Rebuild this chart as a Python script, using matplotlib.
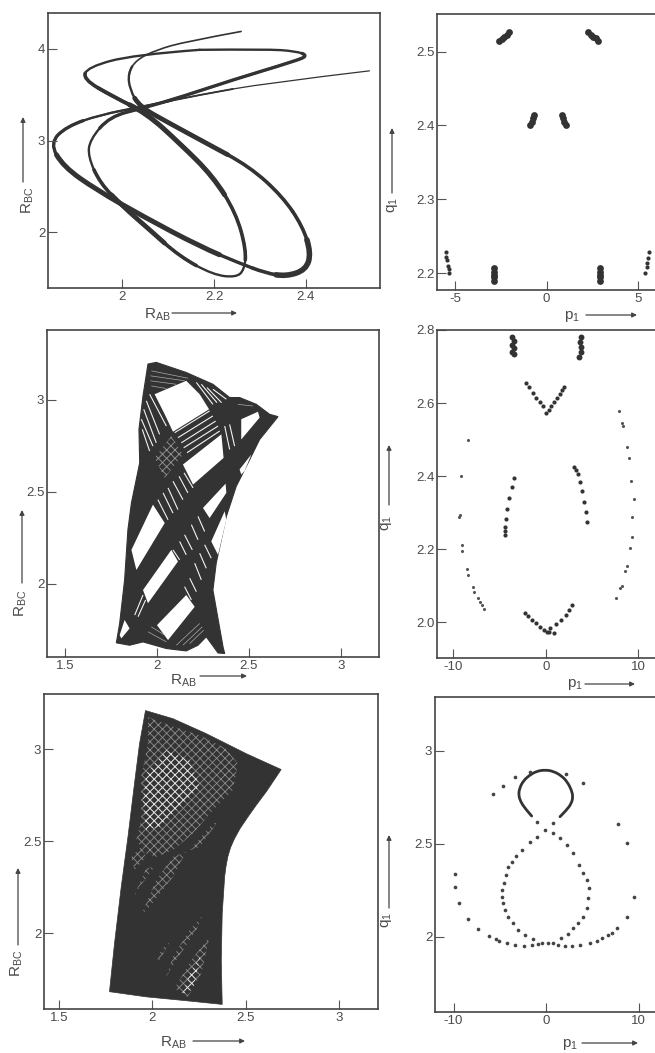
import matplotlib
matplotlib.use("Agg")
import matplotlib.pyplot as plt
from matplotlib.patches import Polygon, PathPatch, FancyArrowPatch
from matplotlib.path import Path

plt.rcParams['font.family'] = ['Liberation Sans', 'DejaVu Sans']
plt.rcParams['mathtext.default'] = 'regular'
plt.rcParams['hatch.linewidth'] = 0.6

W, H = 655, 1053
INK = '#333333'
TXT = '#4a4a4a'

# panel 1: two strands of the trajectory
loop_a_x = [2.169, 2.313, 2.378, 2.405, 2.375, 2.241, 2.132, 2.046, 1.973, 1.93, 1.926, 1.952, 2.002, 2.06,
            2.125, 2.198, 2.248, 2.266, 2.27, 2.248, 2.198, 2.125, 2.053, 1.98, 1.915, 1.925, 2.024, 2.169]
loop_a_y = [3.989, 3.996, 3.975, 3.925, 3.865, 3.662, 3.481, 3.354, 3.263, 3.009, 2.828, 2.537, 2.283, 2.029,
            1.739, 1.539, 1.51, 1.593, 1.811, 2.21, 2.61, 2.973, 3.299, 3.481, 3.67, 3.8, 3.935, 3.989]
loop_b_x = [2.538, 2.313, 2.169, 2.046, 1.952, 1.879, 1.843, 1.872, 1.944, 2.046, 2.169, 2.255, 2.313, 2.357,
            2.4, 2.411, 2.393, 2.349, 2.277, 2.183, 2.096, 2.038, 2.017, 2.013, 2.031, 2.075, 2.14, 2.259]
loop_b_y = [3.76, 3.626, 3.499, 3.372, 3.281, 3.154, 2.973, 2.719, 2.465, 2.174, 1.848, 1.666, 1.557, 1.521,
            1.593, 1.775, 2.065, 2.392, 2.719, 2.973, 3.209, 3.372, 3.554, 3.735, 3.88, 3.989, 4.08, 4.189]

# panel 2: outline of the covered area, open windows, gaps between strands
outline2 = [(1.951, 3.195), (1.996, 3.204), (2.159, 3.149), (2.304, 3.085), (2.395, 3.013), (2.449, 3.013),
            (2.54, 2.976), (2.612, 2.922), (2.658, 2.909), (2.558, 2.785), (2.495, 2.658), (2.431, 2.531),
            (2.377, 2.367), (2.322, 2.113), (2.304, 1.967), (2.359, 1.658), (2.368, 1.622), (2.332, 1.625),
            (2.268, 1.713), (2.223, 1.667), (2.159, 1.636), (2.051, 1.649), (1.924, 1.685), (1.851, 1.667),
            (1.779, 1.68), (1.797, 1.785), (1.824, 2.022), (1.842, 2.295), (1.861, 2.44), (1.906, 2.658),
            (1.902, 2.84), (1.924, 3.022)]
windows2 = [
    [(1.987, 3.031), (2.159, 3.104), (2.232, 3.031), (2.283, 2.949), (2.087, 2.827), (2.042, 2.922)],
    [(2.141, 2.649), (2.35, 2.813), (2.362, 2.685), (2.196, 2.54)],
    [(2.458, 2.895), (2.549, 2.936), (2.558, 2.904), (2.458, 2.785)],
    [(2.449, 2.622), (2.513, 2.704), (2.476, 2.613), (2.458, 2.595)],
    [(1.861, 2.185), (1.978, 2.431), (2.042, 2.331), (1.888, 2.076)],
    [(2.078, 2.185), (2.114, 2.122), (1.951, 1.895), (1.924, 1.967)],
    [(2.159, 1.94), (2.205, 1.876), (2.06, 1.695), (2.0, 1.776)],
    [(1.824, 1.804), (1.851, 1.758), (1.806, 1.704), (1.797, 1.722)],
    [(2.368, 2.395), (2.377, 2.349), (2.332, 2.158), (2.295, 2.231)],
    [(2.25, 2.413), (2.373, 2.545), (2.377, 2.495), (2.286, 2.358)],
]
gaps2 = [
    (2.214, 3.095, 2.304, 2.976), (2.241, 3.085, 2.326, 2.985), (2.272, 3.067, 2.351, 2.985), (2.304, 3.058, 2.377, 3.004),
    (1.96, 3.031, 2.051, 2.858), (1.942, 2.995, 2.014, 2.813), (1.928, 2.949, 1.996, 2.767), (1.915, 2.895, 1.978, 2.749),
    (1.92, 2.84, 1.96, 2.722),
    (2.096, 2.822, 2.286, 2.94), (2.114, 2.795, 2.304, 2.913), (2.132, 2.767, 2.319, 2.885), (2.145, 2.74, 2.332, 2.858),
    (2.163, 2.713, 2.341, 2.831),
    (2.005, 2.458, 2.06, 2.349), (2.033, 2.495, 2.087, 2.385), (2.06, 2.522, 2.114, 2.404), (2.087, 2.558, 2.141, 2.458),
    (2.12, 2.585, 2.168, 2.495), (2.147, 2.604, 2.196, 2.522),
    (2.087, 2.185, 2.123, 2.131), (2.123, 2.231, 2.159, 2.158), (2.15, 2.267, 2.192, 2.185), (2.187, 2.322, 2.223, 2.24),
    (2.223, 2.367, 2.259, 2.285),
    (2.205, 2.113, 2.241, 2.022), (2.232, 2.167, 2.268, 2.085), (2.259, 2.213, 2.295, 2.14), (2.178, 2.031, 2.214, 1.958),
    (2.15, 1.985, 2.187, 1.913),
    (1.879, 1.831, 1.924, 1.94), (1.897, 1.822, 1.938, 1.913),
    (2.368, 2.858, 2.395, 2.731), (2.395, 2.867, 2.422, 2.749),
]
fine_gaps2 = [
    (1.969, 3.158, 2.168, 3.118), (1.964, 3.131, 2.15, 3.104), (1.964, 3.104, 2.105, 3.085), (1.969, 3.076, 2.051, 3.062),
    (1.951, 1.74, 2.051, 1.685), (1.969, 1.767, 2.042, 1.722),
    (2.105, 1.667, 2.232, 1.785), (2.141, 1.667, 2.246, 1.767), (2.178, 1.676, 2.254, 1.749),
    (2.44, 2.976, 2.522, 2.967),
]
mesh2 = [(1.987, 2.685), (2.078, 2.804), (2.141, 2.704), (2.042, 2.576)]

# panel 3: outline and the areas where the net of strands still shows
outline3 = [(1.964, 3.21), (2.111, 3.166), (2.289, 3.085), (2.504, 2.976), (2.691, 2.89), (2.611, 2.769),
            (2.557, 2.696), (2.513, 2.633), (2.471, 2.57), (2.441, 2.515), (2.42, 2.467), (2.405, 2.416),
            (2.395, 2.362), (2.388, 2.307), (2.375, 2.108), (2.37, 1.855), (2.375, 1.615), (2.182, 1.635),
            (1.968, 1.656), (1.771, 1.684), (1.798, 1.946), (1.834, 2.253), (1.87, 2.524), (1.905, 2.814),
            (1.932, 3.03)]
net3_dim = [
    [(1.977, 3.175), (2.093, 3.13), (2.254, 3.076), (2.396, 3.004), (2.459, 2.922), (2.432, 2.778), (2.325, 2.669),
     (2.218, 2.542), (2.111, 2.452), (2.021, 2.416), (1.968, 2.434), (1.914, 2.506), (1.941, 2.615), (1.941, 2.85),
     (1.977, 3.031)],
    [(1.888, 2.416), (1.941, 2.47), (1.968, 2.416), (1.905, 2.344)],
    [(2.182, 2.443), (2.111, 2.307), (1.986, 2.145), (1.941, 2.1), (2.021, 2.289), (2.111, 2.416)],
    [(1.968, 2.353), (2.012, 2.362), (1.932, 2.253), (1.896, 2.19)],
    [(2.325, 2.597), (2.352, 2.606), (2.254, 2.47), (2.2, 2.452)],
    [(2.307, 1.982), (2.263, 1.783), (2.191, 1.656), (2.12, 1.702), (2.209, 1.855)],
    [(2.271, 2.1), (2.236, 2.018), (2.129, 1.855), (2.075, 1.765), (2.111, 1.873), (2.2, 2.018)],
    [(2.075, 1.946), (2.093, 1.946), (2.021, 1.828), (2.039, 1.891)],
]
net3_bright = [
    [(1.968, 2.868), (2.075, 2.995), (2.2, 2.94), (2.254, 2.796), (2.146, 2.687), (2.039, 2.579), (1.968, 2.561), (1.95, 2.723)],
    [(2.2, 1.78), (2.26, 1.88), (2.22, 1.7), (2.16, 1.67)],
]

# surfaces of section, p1 / q1
sec1_p = [-2.58, -2.45, -2.33, -2.18, -2.04, 2.27, 2.42, 2.55, 2.69, 2.82,
          -0.69, -0.76, -0.82, -0.89, 0.82, 0.89, 0.95, 1.04,
          -2.85, -2.85, -2.85, -2.85, -2.85, 2.91, 2.91, 2.91, 2.91, 2.91]
sec1_q = [2.515, 2.517, 2.520, 2.523, 2.526, 2.526, 2.523, 2.520, 2.518, 2.515,
          2.414, 2.41, 2.405, 2.40, 2.414, 2.41, 2.405, 2.40,
          2.207, 2.202, 2.198, 2.194, 2.189, 2.207, 2.202, 2.198, 2.194, 2.189]
sec1b_p = [-5.49, -5.49, -5.45, -5.38, -5.35, -5.33, 5.6, 5.55, 5.49, 5.45, 5.38]
sec1b_q = [2.228, 2.222, 2.217, 2.21, 2.205, 2.2, 2.228, 2.22, 2.214, 2.208, 2.2]

sec2_blob_p = [-3.65, -3.5, -3.65, -3.5, -3.65, -3.5, 3.78, 3.71, 3.78, 3.82, 3.6]
sec2_blob_q = [2.78, 2.77, 2.76, 2.75, 2.74, 2.735, 2.78, 2.767, 2.754, 2.74, 2.727]
sec2_p = [-2.13, -1.77, -1.41, -1.05, -0.68, -0.32, 0.04, 0.32, 0.61, 0.9, 1.19, 1.48, 1.77, 1.98,
          -3.42, -3.68, -3.96, -4.18, -4.32, -4.4, -4.4, -4.43, 3.1, 3.28, 3.46, 3.71, 3.96, 4.18, 4.36, 4.5,
          -2.31, -1.95, -1.51, -1.08, -0.61, -0.18, 0.29, 0.83, 0.11, 0.47, 1.08, 1.66, 2.16, 2.52, 2.85]
sec2_q = [2.655, 2.643, 2.628, 2.614, 2.603, 2.592, 2.573, 2.582, 2.593, 2.603, 2.613, 2.624, 2.635, 2.645,
          2.394, 2.371, 2.341, 2.31, 2.283, 2.262, 2.25, 2.239, 2.426, 2.417, 2.405, 2.385, 2.359, 2.33, 2.302, 2.273,
          2.026, 2.017, 2.006, 1.997, 1.988, 1.979, 1.974, 1.97, 1.974, 1.984, 1.995, 2.006, 2.02, 2.034, 2.046]
sec2b_p = [-8.47, -9.15, -9.33, -9.4, -9.08, -9.12, -8.54, -8.47, -7.89, -7.82, -7.39, -7.17, -6.92, -6.67,
           7.89, 8.29, 8.36, 8.76, 9.05, 9.26, 9.51, 9.37, 9.33, 9.08, 8.83, 8.58, 8.22, 8.04, 7.57]
sec2b_q = [2.5, 2.401, 2.294, 2.289, 2.211, 2.195, 2.145, 2.129, 2.096, 2.084, 2.066, 2.054, 2.046, 2.036,
           2.579, 2.546, 2.537, 2.479, 2.449, 2.387, 2.336, 2.289, 2.232, 2.203, 2.154, 2.139, 2.099, 2.093, 2.066]

sec3_loop_p = [-1.55, -2.27, -2.74, -2.97, -2.85, -2.45, -1.8, -1.01, -0.11, 0.79, 1.69, 2.31, 2.75, 2.92, 2.75, 2.23, 1.51]
sec3_loop_q = [2.649, 2.69, 2.726, 2.762, 2.8, 2.838, 2.868, 2.89, 2.897, 2.89, 2.865, 2.832, 2.789, 2.753, 2.717, 2.681, 2.645]
sec3_p = [-1.01, -0.11, 0.79,
          -5.69, -4.68, -3.32, -1.73, 2.13, 3.96, 7.78, 8.79, 9.55, 8.72, 7.64,
          -9.8, -9.8, -9.41, -8.43, -7.32, -6.16,
          -5.41, -5.05, -4.25, -3.39, -2.38, -1.55, -0.83, -0.47, 0.25, 0.79, 1.26, 2.05, 2.77, 3.71, 4.76, 5.48, 6.02, 6.74, 7.1,
          -1.01, -1.73, -2.63, -3.24, -3.71, -4.07, -4.36, -4.58, -4.72, -4.76, -4.61, -4.43, -4.07, -3.6, -2.99, -2.27, -1.37,
          1.62, 2.34, 2.95, 3.5, 3.96, 4.4, 4.58, 4.61, 4.4, 4.04, 3.6, 2.88, 2.23, 1.51, 0.79]
sec3_q = [2.618, 2.573, 2.609,
          2.765, 2.812, 2.857, 2.885, 2.875, 2.828, 2.608, 2.505, 2.215, 2.108, 2.045,
          2.337, 2.269, 2.179, 2.093, 2.039, 2.004,
          1.986, 1.978, 1.964, 1.957, 1.952, 1.953, 1.961, 1.964, 1.966, 1.968, 1.955, 1.952, 1.952, 1.953, 1.968, 1.978, 1.991, 2.009, 2.022,
          2.538, 2.511, 2.466, 2.434, 2.403, 2.373, 2.332, 2.29, 2.251, 2.215, 2.179, 2.143, 2.108, 2.072, 2.036, 2.009, 1.986,
          1.995, 2.014, 2.045, 2.072, 2.108, 2.152, 2.206, 2.26, 2.305, 2.344, 2.385, 2.448, 2.493, 2.529, 2.556]


def panel(l, t, r, b, xlim, ylim, xticks, xlabels, yticks, ylabels):
    ax = plt.gcf().add_axes([l / W, 1 - b / H, (r - l) / W, (b - t) / H])
    ax.set_xlim(xlim)
    ax.set_ylim(ylim)
    ax.set_xticks(xticks, xlabels)
    ax.set_yticks(yticks, ylabels)
    ax.tick_params(direction='in', length=6.5, width=0.8, color='#555555', labelcolor=TXT, labelsize=9.5, pad=2)
    for s in ax.spines.values():
        s.set_linewidth(1.2)
        s.set_color('#444444')
    return ax


def curve(ax, xs, ys, lw, start=0, end=None):
    # smooth stroke through midpoints, read points act as control points,
    # start/end pick a stretch of the same curve so thicker pieces stay on it
    n = len(xs)
    end = n - 1 if end is None else end
    if start == 0:
        verts = [(xs[0], ys[0])]
    else:
        verts = [((xs[start - 1] + xs[start]) / 2, (ys[start - 1] + ys[start]) / 2)]
    codes = [Path.MOVETO]
    for i in range(max(start, 1), end):
        verts.append((xs[i], ys[i]))
        if i == n - 2:
            verts.append((xs[n - 1], ys[n - 1]))
        else:
            verts.append(((xs[i] + xs[i + 1]) / 2, (ys[i] + ys[i + 1]) / 2))
        codes += [Path.CURVE3, Path.CURVE3]
    ax.add_patch(PathPatch(Path(verts, codes), fill=False, edgecolor=INK, lw=lw, capstyle='round', joinstyle='round'))


def arrow(x0, y0, x1, y1):
    fig.add_artist(FancyArrowPatch((x0 / W, 1 - y0 / H), (x1 / W, 1 - y1 / H),
                   transform=fig.transFigure, arrowstyle='-|>', mutation_scale=7, lw=0.9, color='#444444',
                   shrinkA=0, shrinkB=0))


def label(x, y, s, rot=0):
    fig.text(x / W, 1 - y / H, s, ha='center', va='center', rotation=rot, fontsize=11, color=TXT)


fig = plt.figure(figsize=(W / 100, H / 100), dpi=100)

# top left
ax = panel(48, 13, 380, 288, (1.839, 2.561), (1.395, 4.39), [2, 2.2, 2.4], ['2', '2.2', '2.4'], [2, 3, 4], ['2', '3', '4'])
curve(ax, loop_a_x, loop_a_y, 1.7)
curve(ax, loop_b_x, loop_b_y, 1.7, 3, 24)
curve(ax, loop_b_x, loop_b_y, 0.9, 0, 3)
curve(ax, loop_b_x, loop_b_y, 1.3, 2, 5)
curve(ax, loop_b_x, loop_b_y, 1.2, 23, None)
for lw, a0, a1 in [(2.4, 3, 9), (2.6, 11, 15), (3.4, 12, 14), (2.6, 18, 24), (3.6, 20, 23), (2.6, 23, 25)]:
    curve(ax, loop_a_x, loop_a_y, lw, a0, a1)
for lw, b0, b1 in [(2.4, 5, 12), (3.6, 7, 11), (2.6, 12, 17), (4.0, 13, 16), (2.6, 17, 22), (3.4, 19, 22)]:
    curve(ax, loop_b_x, loop_b_y, lw, b0, b1)

# middle left
ax = panel(47, 330, 379, 657, (1.402, 3.207), (1.603, 3.38), [1.5, 2, 2.5, 3], ['1.5', '2', '2.5', '3'], [2, 2.5, 3], ['2', '2.5', '3'])
ax.add_patch(Polygon(outline2, closed=True, facecolor=INK, edgecolor=INK, lw=0.8))
for w in windows2:
    ax.add_patch(Polygon(w, closed=True, facecolor='white', edgecolor='none'))
for x0, y0, x1, y1 in gaps2:
    ax.plot([x0, x1], [y0, y1], color='#f2f2f2', lw=0.8, solid_capstyle='butt')
for x0, y0, x1, y1 in fine_gaps2:
    ax.plot([x0, x1], [y0, y1], color='#aaaaaa', lw=0.5, solid_capstyle='butt')
ax.add_patch(Polygon(mesh2, closed=True, fill=False, hatch='xxxx', edgecolor='#999999', lw=0))

# bottom left
ax = panel(44, 694, 378, 1009, (1.42, 3.21), (1.59, 3.3), [1.5, 2, 2.5, 3], ['1.5', '2', '2.5', '3'], [2, 2.5, 3], ['2', '2.5', '3'])
ax.add_patch(Polygon(outline3, closed=True, facecolor=INK, edgecolor=INK, lw=0.5))
for net in net3_dim:
    ax.add_patch(Polygon(net, closed=True, fill=False, hatch='xxxx', edgecolor='#8c8c8c', lw=0))
for net in net3_bright:
    ax.add_patch(Polygon(net, closed=True, fill=False, hatch='xxxx', edgecolor='#e6e6e6', lw=0))

# top right
ax = panel(437, 14, 657, 290, (-5.98, 6.02), (2.177, 2.551), [-5, 0, 5], ['-5', '0', '5'], [2.2, 2.3, 2.4, 2.5], ['2.2', '2.3', '2.4', '2.5'])
ax.scatter(sec1_p, sec1_q, s=24, color=INK, lw=0)
ax.scatter(sec1b_p, sec1b_q, s=9, color=INK, lw=0)

# middle right
ax = panel(437, 330, 657, 658, (-11.78, 12.03), (1.902, 2.8), [-10, 0, 10], ['-10', '0', '10'], [2.0, 2.2, 2.4, 2.6, 2.8], ['2.0', '2.2', '2.4', '2.6', '2.8'])
ax.scatter(sec2_blob_p, sec2_blob_q, s=18, color=INK, lw=0)
ax.scatter(sec2_p, sec2_q, s=9, color=INK, lw=0)
ax.scatter(sec2b_p, sec2b_q, s=5, color='#555555', lw=0)

# bottom right
ax = panel(435, 697, 657, 1012, (-12, 12), (1.595, 3.289), [-10, 0, 10], ['-10', '0', '10'], [2, 2.5, 3], ['2', '2.5', '3'])
curve(ax, sec3_loop_p, sec3_loop_q, 2.0)
ax.scatter(sec3_p, sec3_q, s=7, color='#444444', lw=0)

# axis names with their arrows
label(28, 200, r'R$_{BC}$', 90)
arrow(23, 182, 23, 117)
label(157, 315, r'R$_{AB}$')
arrow(172, 313, 237, 313)
label(392, 205, r'q$_{1}$', 90)
arrow(392, 193, 392, 128)
label(572, 317, r'p$_{1}$')
arrow(586, 315, 637, 315)
label(21, 603, r'R$_{BC}$', 90)
arrow(22, 583, 22, 510)
label(183, 681, r'R$_{AB}$')
arrow(200, 676, 247, 676)
label(387, 523, r'q$_{1}$', 90)
arrow(389, 505, 389, 445)
label(575, 685, r'p$_{1}$')
arrow(585, 684, 635, 684)
label(17, 963, r'R$_{BC}$', 90)
arrow(18, 945, 18, 868)
label(173, 1043, r'R$_{AB}$')
arrow(193, 1041, 245, 1041)
label(387, 920, r'q$_{1}$', 90)
arrow(389, 908, 389, 835)
label(570, 1044, r'p$_{1}$')
arrow(582, 1043, 638, 1043)

fig.savefig('out.png', dpi=100)
